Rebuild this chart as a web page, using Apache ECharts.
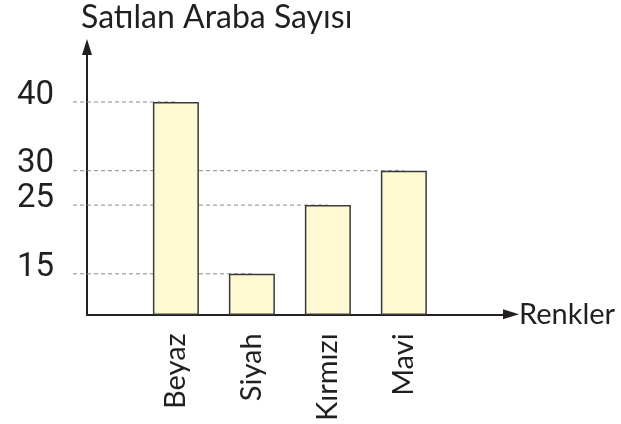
<!DOCTYPE html>
<html>
<head>
<meta charset="utf-8">
<script src="https://cdn.jsdelivr.net/npm/echarts@6/dist/echarts.min.js"></script>
<style>
    html, body { margin: 0; padding: 0; background: #fff; }
    #chart { width: 621px; height: 424px; }
</style>
</head>
<body>
<div id="chart"></div>
<script>
const colors     = ['Beyaz', 'Siyah', 'Kırmızı', 'Mavi'];
const soldCounts = [40, 15, 25, 30];
const yTicks     = [15, 25, 30, 40];

const ink  = '#231f20';
const font = 'Lato';

const chart = echarts.init(document.getElementById('chart'));

const barData = colors.map((c, i) => [i, soldCounts[i]]);

const option = {
    animation: false,
    title: {
        text: 'Satılan Araba Sayısı',
        left: 76,
        top: -3,
        textStyle: { fontFamily: font, fontSize: 32, fontWeight: 'normal', color: ink }
    },
    grid: { left: 87, right: 110, top: 47, bottom: 103 },
    xAxis: {
        type: 'value',
        min: -1.17,
        max: 4.41,
        name: 'Renkler',
        nameLocation: 'end',
        nameGap: 8,
        nameTextStyle: { fontFamily: font, fontSize: 29, color: ink },
        splitLine: { show: false },
        axisTick: { show: false },
        axisLine: {
            onZero: false,
            symbol: ['none', 'triangle'],
            symbolSize: [10, 16],
            lineStyle: { color: ink, width: 2 }
        },
        axisLabel: {
            customValues: [0, 1, 2, 3],
            formatter: v => colors[v],
            rotate: 90,
            margin: 19,
            fontFamily: font,
            fontSize: 29,
            color: ink
        }
    },
    yAxis: {
        type: 'value',
        min: 9.1,
        max: 48,
        splitLine: { show: false },
        axisTick: { show: false },
        axisLine: {
            onZero: false,
            symbol: ['none', 'triangle'],
            symbolSize: [10, 16],
            lineStyle: { color: ink, width: 2 }
        },
        axisLabel: {
            customValues: yTicks,
            margin: 33,
            fontFamily: 'Roboto',
            fontSize: 33,
            color: ink,
            verticalAlign: 'bottom',
            lineHeight: 13
        }
    },
    series: [
        {
            // dashed guide lines from the axis to each bar
            type: 'custom',
            z: 1,
            silent: true,
            data: barData,
            renderItem(params, api) {
                const p = api.coord([api.value(0), api.value(1)]);
                const x0 = api.coord([-1.17, api.value(1)])[0] - 14;
                return {
                    type: 'line',
                    shape: { x1: x0, y1: p[1], x2: p[0], y2: p[1] },
                    style: { stroke: '#8a8a8a', lineWidth: 1, lineDash: [4, 3] }
                };
            }
        },
        {
            type: 'bar',
            z: 2,
            barWidth: 46,
            data: barData,
            itemStyle: { color: '#fef8d3', borderColor: '#3a3a3a', borderWidth: 1.5 }
        }
    ]
};

chart.setOption(option);
</script>
</body>
</html>
